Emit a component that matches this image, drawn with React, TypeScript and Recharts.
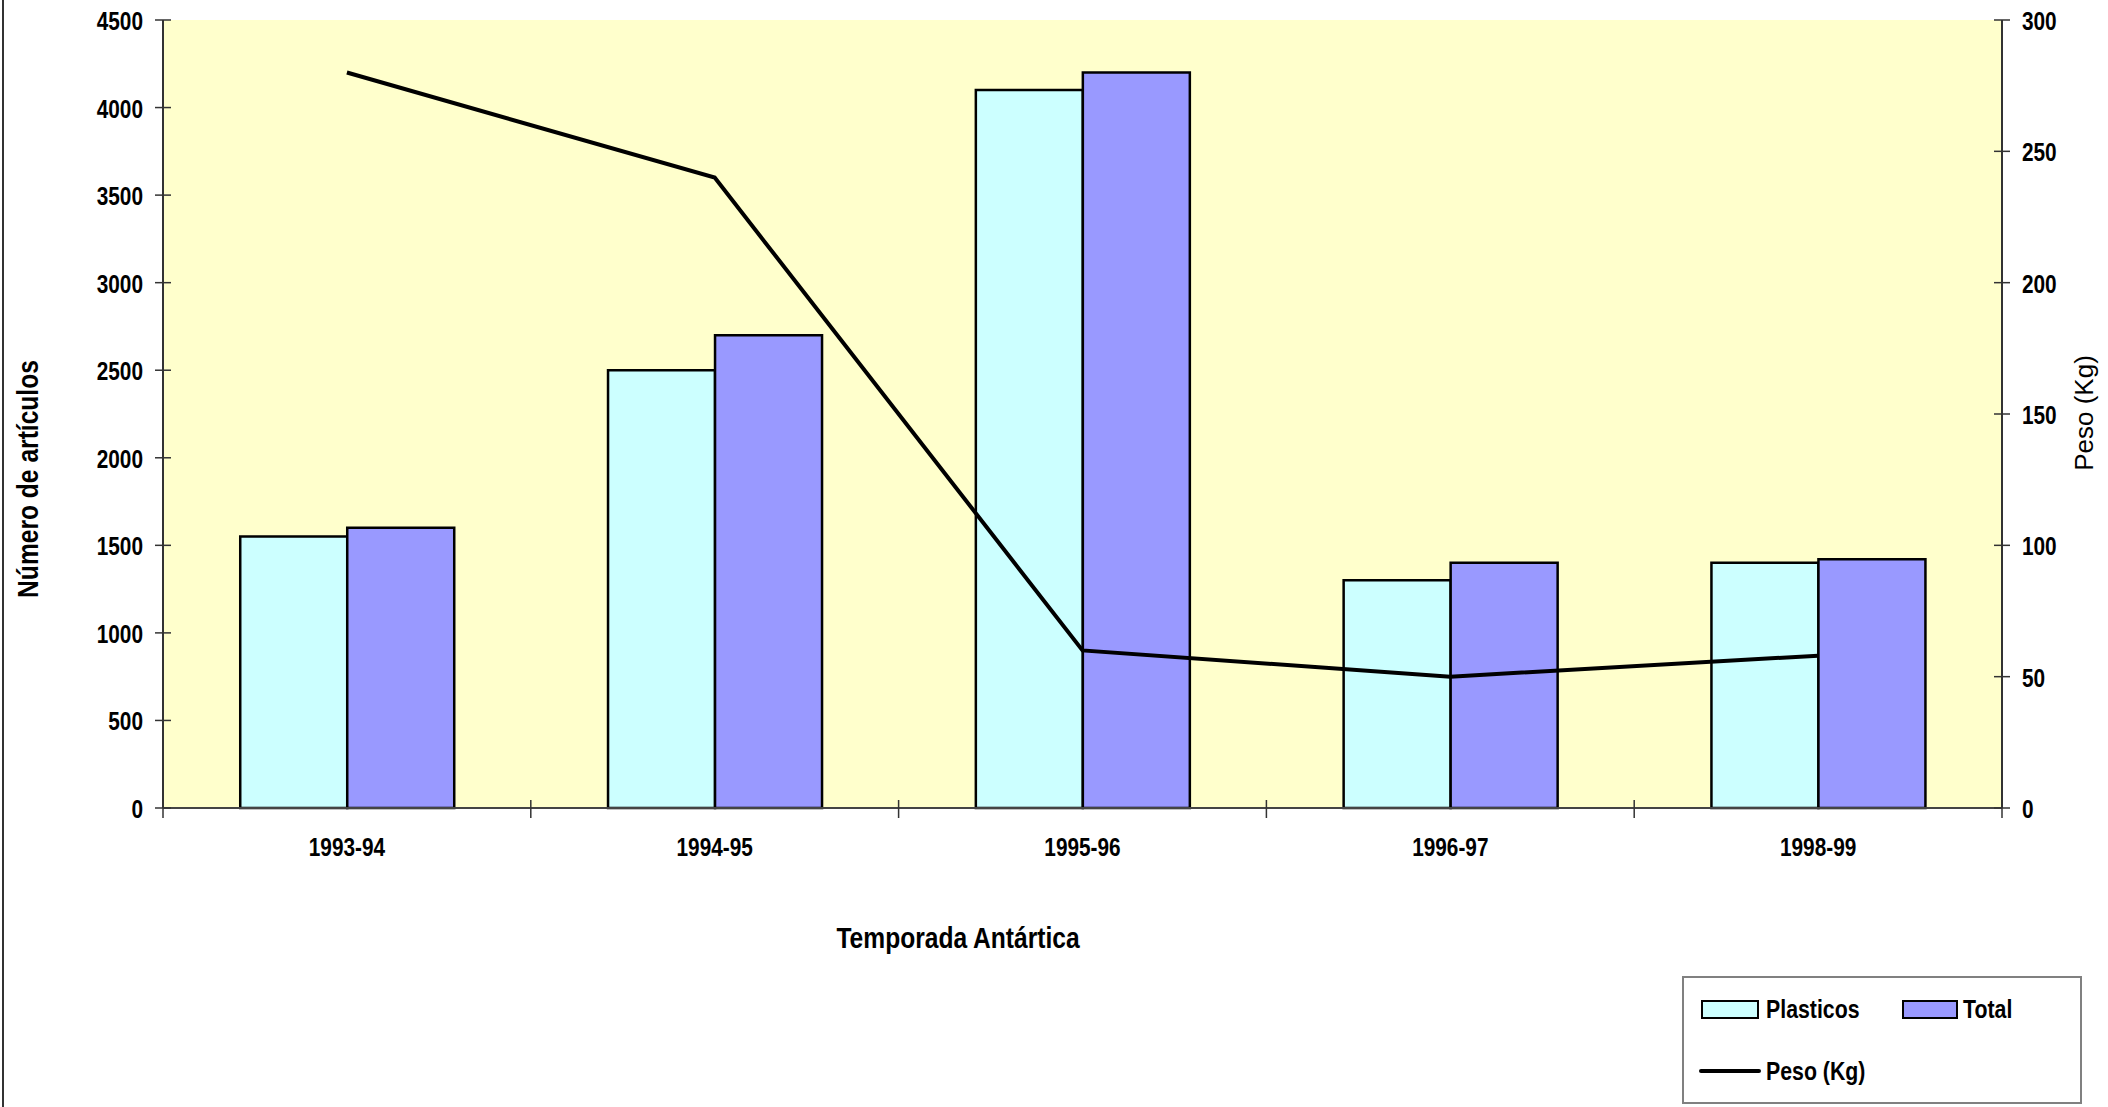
import React from 'react';
import { ComposedChart, Bar, Line, XAxis, YAxis, CartesianGrid, Legend, Label } from 'recharts';

const seasons = ['1993-94', '1994-95', '1995-96', '1996-97', '1998-99'];
const plasticos = [1550, 2500, 4100, 1300, 1400];
const total = [1600, 2700, 4200, 1400, 1420];
const peso = [280, 240, 60, 50, 58];

const leftTicks = [0, 500, 1000, 1500, 2000, 2500, 3000, 3500, 4000, 4500];
const rightTicks = [0, 50, 100, 150, 200, 250, 300];

const data = seasons.map((s, i) => ({
  season: s,
  plasticos: plasticos[i],
  total: total[i],
  peso: peso[i],
}));

const W = 2108;
const H = 1107;
const LEFT_W = 163;
const RIGHT_W = 106;
const TOP = 20;
const AXIS_Y = 808;
const PLOT_W = W - LEFT_W - RIGHT_W;
const BAND = PLOT_W / seasons.length;

const SANS = "'Liberation Sans', Arial, sans-serif";

// Arial Narrow is Arial squeezed horizontally, so fake it with a scale
const Narrow = ({ x, y, anchor = 'start', rotate = 0, size = 26, squeeze = 0.8, children }: any) => (
  <text
    transform={`translate(${x},${y}) rotate(${rotate}) scale(${squeeze},1)`}
    x={0}
    y={0}
    textAnchor={anchor}
    fontFamily={SANS}
    fontWeight="bold"
    fontSize={size}
    fill="#000"
  >
    {children}
  </text>
);

const LeftTick = (props: any) => {
  const { x, y, payload } = props;
  return (
    <g>
      <line x1={x - 8} x2={x + 8} y1={y} y2={y} stroke="#333" strokeWidth={1.5} />
      <Narrow x={x - 20} y={y + 10} anchor="end">{payload.value}</Narrow>
    </g>
  );
};

const RightTick = (props: any) => {
  const { x, y, payload } = props;
  return (
    <g>
      <line x1={x - 8} x2={x + 8} y1={y} y2={y} stroke="#333" strokeWidth={1.5} />
      <Narrow x={x + 20} y={y + 10}>{payload.value}</Narrow>
    </g>
  );
};

const BottomTick = (props: any) => {
  const { x, y, payload, index } = props;
  return (
    <g>
      <line x1={x - BAND / 2} x2={x - BAND / 2} y1={y - 8} y2={y + 10} stroke="#333" strokeWidth={1.5} />
      {index === seasons.length - 1 && (
        <line x1={x + BAND / 2} x2={x + BAND / 2} y1={y - 8} y2={y + 10} stroke="#333" strokeWidth={1.5} />
      )}
      <Narrow x={x} y={y + 48} anchor="middle">{payload.value}</Narrow>
    </g>
  );
};

const LegendBox = () => (
  <svg width={400} height={128} style={{ display: 'block' }}>
    <rect x={1} y={1} width={398} height={126} fill="#fff" stroke="#808080" strokeWidth={2} />
    <rect x={20} y={25} width={56} height={17} fill="#CCFFFF" stroke="#000" strokeWidth={2} />
    <Narrow x={84} y={42} squeeze={0.82}>Plasticos</Narrow>
    <rect x={221} y={25} width={54} height={17} fill="#9999FF" stroke="#000" strokeWidth={2} />
    <Narrow x={281} y={42} squeeze={0.82}>Total</Narrow>
    <line x1={19} x2={77} y1={95} y2={95} stroke="#000" strokeWidth={4} strokeLinecap="round" />
    <Narrow x={84} y={104} squeeze={0.82}>Peso (Kg)</Narrow>
  </svg>
);

export default function App() {
  return (
    <div style={{ position: 'fixed', left: 0, top: 0, width: W, height: H, background: '#fff' }}>
      <div style={{ position: 'absolute', left: 2, top: 0, width: 2, height: H, background: '#333' }} />
      <ComposedChart
        width={W}
        height={H}
        data={data}
        margin={{ top: TOP, right: 0, bottom: H - AXIS_Y - 60, left: 0 }}
        barCategoryGap="21%"
        barGap={0}
      >
        <CartesianGrid horizontal={false} vertical={false} fill="#FFFFCC" yAxisId="left" />
        <XAxis
          xAxisId="top"
          orientation="top"
          height={0}
          tick={false}
          tickLine={false}
          axisLine={{ stroke: '#808080', strokeWidth: 2 }}
        />
        <XAxis
          dataKey="season"
          height={60}
          tickSize={0}
          tickMargin={0}
          tickLine={false}
          axisLine={{ stroke: '#444', strokeWidth: 2 }}
          tick={<BottomTick />}
          interval={0}
        >
          <Label
            content={() => (
              <Narrow x={958} y={948} anchor="middle" size={30} squeeze={0.82}>
                Temporada Antártica
              </Narrow>
            )}
          />
        </XAxis>
        <YAxis
          yAxisId="left"
          width={LEFT_W}
          domain={[0, 4500]}
          ticks={leftTicks}
          interval={0}
          tickSize={0}
          tickMargin={0}
          tickLine={false}
          axisLine={{ stroke: '#333', strokeWidth: 2 }}
          tick={<LeftTick />}
        >
          <Label
            content={() => (
              <Narrow x={38} y={479} anchor="middle" rotate={-90} size={30} squeeze={0.82}>
                Número de artículos
              </Narrow>
            )}
          />
        </YAxis>
        <YAxis
          yAxisId="right"
          orientation="right"
          width={RIGHT_W}
          domain={[0, 300]}
          ticks={rightTicks}
          interval={0}
          tickSize={0}
          tickMargin={0}
          tickLine={false}
          axisLine={{ stroke: '#333', strokeWidth: 2 }}
          tick={<RightTick />}
        >
          <Label
            content={() => (
              <text
                x={2093}
                y={413}
                transform="rotate(-90, 2093, 413)"
                textAnchor="middle"
                fontFamily={SANS}
                fontSize={26}
                fill="#000"
              >
                Peso (Kg)
              </text>
            )}
          />
        </YAxis>
        <Bar yAxisId="left" dataKey="plasticos" name="Plasticos" fill="#CCFFFF" stroke="#000" strokeWidth={2.5} isAnimationActive={false} />
        <Bar yAxisId="left" dataKey="total" name="Total" fill="#9999FF" stroke="#000" strokeWidth={2.5} isAnimationActive={false} />
        <Line
          yAxisId="right"
          type="linear"
          dataKey="peso"
          name="Peso (Kg)"
          stroke="#000"
          strokeWidth={4}
          dot={false}
          activeDot={false}
          isAnimationActive={false}
        />
        <Legend
          layout="horizontal"
          verticalAlign="middle"
          align="center"
          width={400}
          wrapperStyle={{ left: 1682, top: 976, width: 400, height: 128 }}
          content={() => <LegendBox />}
        />
      </ComposedChart>
    </div>
  );
}
